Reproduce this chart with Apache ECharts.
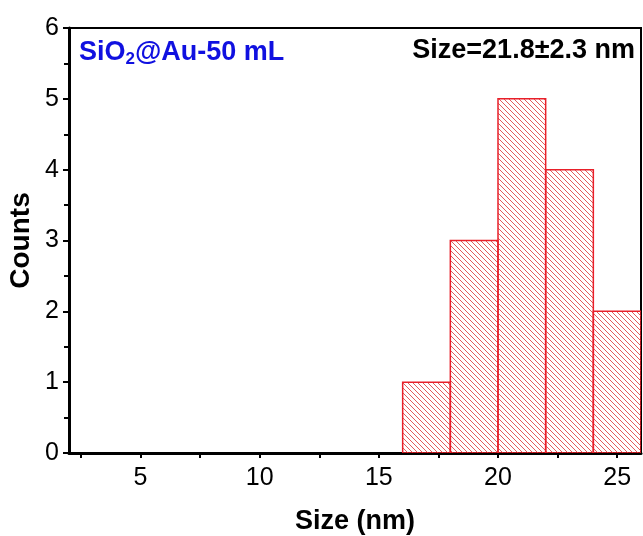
<!DOCTYPE html>
<html><head><meta charset="utf-8">
<script src="https://cdn.jsdelivr.net/npm/echarts@6/dist/echarts.min.js"></script>
<style>html,body{margin:0;padding:0;background:#fff}#c{width:643px;height:536px}</style>
</head><body><div id="c"></div>
<script>
const binStarts = [16, 18, 20, 22, 24];
const binWidth = 2;
const counts = [1, 3, 5, 4, 2];
const xLabels = [5, 10, 15, 20, 25];
const xTicks = [2.5, 5, 7.5, 10, 12.5, 15, 17.5, 20, 22.5, 25];
const sizeLabel = 'Size=21.8±2.3 nm';

const FONT = 'Liberation Sans, Arial, sans-serif';

function hatch() {
  const s = 5;
  const c = document.createElement('canvas');
  c.width = s; c.height = s;
  const g = c.getContext('2d');
  g.strokeStyle = '#e04848';
  g.lineWidth = 0.9;
  g.beginPath();
  g.moveTo(-1, -1); g.lineTo(s + 1, s + 1);
  g.moveTo(-1, s - 1); g.lineTo(1, s + 1);
  g.moveTo(s - 1, -1); g.lineTo(s + 1, 1);
  g.stroke();
  return c;
}
const pat = hatch();

const chart = echarts.init(document.getElementById('c'), null, {renderer: 'canvas'});
chart.setOption({
  animation: false,
  grid: {left: 69, right: 2, top: 28, bottom: 83, show: true, borderColor: '#000', borderWidth: 2, outerBoundsMode: 'none', containLabel: false},
  title: [
    {left: 74, top: 32, text: '{a|SiO}{s|2}{a|@Au-50 mL}',
     textStyle: {rich: {
       a: {fontFamily: FONT, fontWeight: 'bold', fontSize: 27, color: '#1010e0'},
       s: {fontFamily: FONT, fontWeight: 'bold', fontSize: 17, color: '#1010e0', verticalAlign: 'bottom', padding: [14, 0, 0, 0]}
     }}},
    {right: 3, top: 32, text: sizeLabel,
     textStyle: {fontFamily: FONT, fontWeight: 'bold', fontSize: 27, color: '#000'}}
  ],
  xAxis: {
    type: 'value', min: 2, max: 26,
    name: 'Size (nm)', nameLocation: 'middle', nameGap: 55,
    nameTextStyle: {fontFamily: FONT, fontWeight: 'bold', fontSize: 27, color: '#000'},
    axisLine: {lineStyle: {color: '#000', width: 3}},
    axisTick: {show: true, customValues: xTicks, length: 5, lineStyle: {color: '#000', width: 2}},
    axisLabel: {customValues: xLabels, fontFamily: FONT, fontSize: 25, color: '#000', margin: 13},
    splitLine: {show: false}
  },
  yAxis: {
    type: 'value', min: 0, max: 6, interval: 1,
    name: 'Counts', nameLocation: 'middle', nameGap: 34, nameMoveOverlap: false,
    nameTextStyle: {fontFamily: FONT, fontWeight: 'bold', fontSize: 28, color: '#000'},
    axisLine: {show: true, lineStyle: {color: '#000', width: 3}},
    axisTick: {show: true, length: 6, lineStyle: {color: '#000', width: 2}},
    minorTick: {show: true, splitNumber: 2, length: 5, lineStyle: {color: '#000', width: 2}},
    axisLabel: {fontFamily: FONT, fontSize: 25, color: '#000', margin: 10},
    splitLine: {show: false}
  },
  series: [{
    type: 'custom',
    clip: true,
    data: binStarts.map((b, i) => [b, b + binWidth, counts[i]]),
    renderItem: function (params, api) {
      const p0 = api.coord([api.value(0), api.value(2)]);
      const p1 = api.coord([api.value(1), 0]);
      return {
        type: 'rect',
        shape: {x: p0[0], y: p0[1], width: p1[0] - p0[0], height: p1[1] - p0[1]},
        style: {fill: {image: pat, repeat: 'repeat'}, stroke: '#e8202a', lineWidth: 1.5}
      };
    }
  }]
});
</script></body></html>
